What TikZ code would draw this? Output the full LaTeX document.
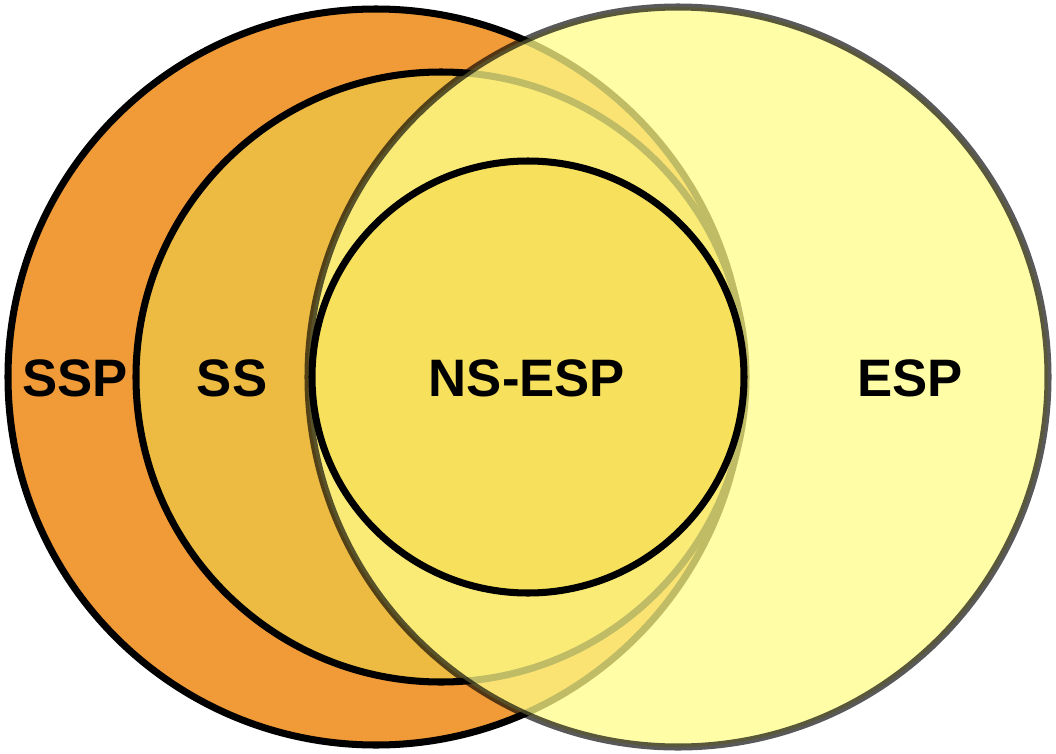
\documentclass[tikz,border=0pt]{standalone}
\usepackage{fontspec}
\setmainfont{Liberation Sans}
\definecolor{sspfill}{HTML}{F09A38}
\definecolor{ssfill}{HTML}{EDBB42}
\definecolor{espfill}{HTML}{FFFC88}
\definecolor{nsfill}{HTML}{F6E05C}
\begin{document}
\begin{tikzpicture}[x=0.02cm,y=-0.02cm,
    line width=4pt,
    lbl/.style = {font=\bfseries\fontsize{30}{36}\selectfont, inner sep=0pt}
  ]
  \useasboundingbox (0,0) rectangle (1056,754);

  \draw [fill=sspfill] (376,377) circle (368);
  \draw [fill=ssfill] (441,377) circle (305);
  \draw [fill=espfill, fill opacity=0.75, draw opacity=0.65] (678,377) circle (370);
  \draw [fill=nsfill] (528,377) circle (216);

  \node[lbl] (ssp) at (75,378) {SSP};
  \node[lbl] (ss) at (232,378) {SS};
  \node[lbl] (nsesp) at (527,378) {NS-ESP};
  \node[lbl] (esp) at (910,378) {ESP};
\end{tikzpicture}
\end{document}
